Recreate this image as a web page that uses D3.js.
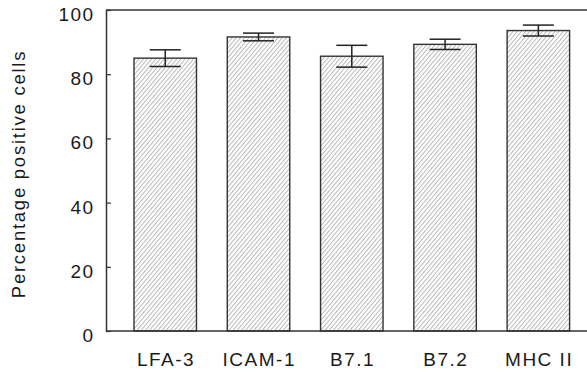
<!DOCTYPE html>
<html>
<head>
<meta charset="utf-8">
<script src="https://cdn.jsdelivr.net/npm/d3@7"></script>
<style>
  html, body { margin: 0; padding: 0; background: #fff; }
  svg { display: block; }
  text { font-family: "Liberation Sans", Arial, sans-serif; fill: #1a1a1a; }
</style>
</head>
<body>
<svg id="chart" width="587" height="372"></svg>
<script>
const categories = ["LFA-3", "ICAM-1", "B7.1", "B7.2", "MHC II"];
const means = [85.0, 91.6, 85.6, 89.3, 93.6];
const errors = [2.6, 1.2, 3.4, 1.6, 1.7];
const yTicks = [0, 20, 40, 60, 80, 100];
const yTitle = "Percentage positive cells";

const svg = d3.select("#chart");
const plotLeft = 106, plotRight = 587, plotTop = 10, plotBottom = 331;

const x = d3.scaleBand().domain(categories).range([118.6, 585]).paddingInner(0.33).paddingOuter(0.165);
const y = d3.scaleLinear().domain([0, 100]).range([plotBottom, plotTop]);

// hatch pattern
const defs = svg.append("defs");
const sp = 3.2;
const pat = defs.append("pattern")
  .attr("id", "hatch").attr("patternUnits", "userSpaceOnUse")
  .attr("width", sp).attr("height", sp)
  .attr("patternTransform", "rotate(40)");
pat.append("rect").attr("width", sp).attr("height", sp).attr("fill", "#fdfdfd");
pat.append("line").attr("x1", 0.5).attr("y1", 0).attr("x2", 0.5).attr("y2", sp)
  .attr("stroke", "#9a9a9a").attr("stroke-width", 0.65);

const data = categories.map((c, i) => ({ c, m: means[i], e: errors[i] }));

// bars
svg.append("g").selectAll("rect").data(data).join("rect")
  .attr("x", d => x(d.c)).attr("width", x.bandwidth())
  .attr("y", d => y(d.m)).attr("height", d => y(0) - y(d.m))
  .attr("fill", "url(#hatch)").attr("stroke", "#333").attr("stroke-width", 1.4);

// error bars
const capW = 31;
const eb = svg.append("g").attr("stroke", "#222").attr("stroke-width", 1.5);
data.forEach(d => {
  const cx = x(d.c) + x.bandwidth() / 2;
  eb.append("line").attr("x1", cx).attr("x2", cx).attr("y1", y(d.m + d.e)).attr("y2", y(d.m - d.e));
  eb.append("line").attr("x1", cx - capW / 2).attr("x2", cx + capW / 2).attr("y1", y(d.m + d.e)).attr("y2", y(d.m + d.e));
  eb.append("line").attr("x1", cx - capW / 2).attr("x2", cx + capW / 2).attr("y1", y(d.m - d.e)).attr("y2", y(d.m - d.e));
});

// frame lines: top and bottom
svg.append("line").attr("x1", plotLeft).attr("x2", plotRight).attr("y1", plotTop).attr("y2", plotTop)
  .attr("stroke", "#333").attr("stroke-width", 1.5);
svg.append("line").attr("x1", plotLeft).attr("x2", plotRight).attr("y1", plotBottom).attr("y2", plotBottom)
  .attr("stroke", "#333").attr("stroke-width", 1.5);

// y axis
const yAxis = d3.axisLeft(y).tickValues(yTicks).tickSizeInner(-5).tickSizeOuter(0).tickPadding(11.5);
const gy = svg.append("g").attr("transform", `translate(${plotLeft},0)`).call(yAxis);
gy.select(".domain").attr("stroke", "#333").attr("stroke-width", 1.5);
gy.selectAll(".tick line").attr("stroke", "#333").attr("stroke-width", 1.2);
gy.selectAll(".tick text")
  .attr("font-family", "'Liberation Sans', Arial, sans-serif")
  .attr("font-size", 19).attr("letter-spacing", "1.4px")
  .attr("fill", "#1a1a1a").attr("dy", "0.55em");

// x axis labels
const xAxis = d3.axisBottom(x).tickSize(0).tickPadding(22);
const gx = svg.append("g").attr("transform", `translate(0,${plotBottom})`).call(xAxis);
gx.select(".domain").remove();
gx.selectAll(".tick text")
  .attr("font-family", "'Liberation Sans', Arial, sans-serif")
  .attr("font-size", 19).attr("letter-spacing", "1.5px")
  .attr("fill", "#1a1a1a").attr("dx", "0.75px");

// y title
svg.append("text")
  .attr("transform", `translate(25,174) rotate(-90)`)
  .attr("text-anchor", "middle")
  .attr("font-size", 18.5).attr("letter-spacing", "1.75px")
  .text(yTitle);
</script>
</body>
</html>
